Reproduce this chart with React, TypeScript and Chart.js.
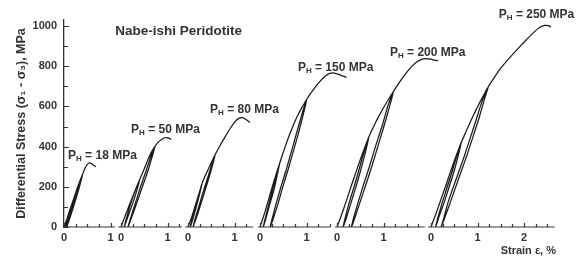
import React, { useEffect, useRef } from 'react';
import { Chart, registerables } from 'chart.js';

Chart.register(...registerables);

// ---- data ----
const pressures = [18, 50, 80, 150, 200, 250];
// where each strain axis' zero sits on the common x scale
const segmentOrigins = [0, 1.226, 2.667, 4.215, 5.871, 7.892];
const segmentAxisStart = [0, -0.06, -0.06, -0.04, -0.04, -0.06];
const segmentAxisEnd = [1.1, 1.31, 1.4, 1.51, 1.89, 2.66];
const segmentTickLabels = [[0, 1], [0, 1], [0, 1], [0, 1], [0, 1], [0, 1, 2]];
const yTickValues = [0, 200, 400, 600, 800, 1000];
const yMinorValues = [100, 300, 500, 700, 900];

// [strain %, differential stress MPa]
const curve18: [number, number][] = [
  [0, 0], [0.07, 45], [0.14, 95], [0.22, 148],
  [0.17, 105], [0.105, 55], [0.03, 0], [0.085, 45], [0.16, 100], [0.22, 148],
  [0.28, 190], [0.34, 228], [0.4, 262],
  [0.35, 215], [0.27, 150], [0.17, 75], [0.06, 0], [0.13, 60], [0.23, 135], [0.33, 205], [0.4, 262],
  [0.45, 292], [0.5, 312], [0.55, 319], [0.6, 314], [0.65, 305], [0.69, 300],
];
const curve50: [number, number][] = [
  [0, 0], [0.1, 62], [0.2, 122], [0.3, 180], [0.4, 235],
  [0.35, 190], [0.27, 130], [0.17, 65], [0.07, 0],
  [0.13, 55], [0.22, 125], [0.32, 190], [0.4, 235],
  [0.5, 290], [0.58, 335], [0.66, 375], [0.73, 400],
  [0.67, 350], [0.58, 280], [0.46, 200], [0.34, 120], [0.23, 50], [0.15, 0],
  [0.2, 40], [0.31, 120], [0.42, 200], [0.54, 280], [0.64, 350], [0.73, 400],
  [0.8, 422], [0.88, 437], [0.94, 444], [0.99, 445], [1.04, 441], [1.08, 436],
];
const curve80: [number, number][] = [
  [0, 0], [0.08, 50], [0.16, 110], [0.24, 170], [0.3, 215],
  [0.26, 175], [0.2, 120], [0.13, 60], [0.05, 0],
  [0.09, 40], [0.155, 95], [0.23, 160], [0.3, 215],
  [0.37, 255], [0.44, 290], [0.51, 325], [0.58, 358],
  [0.53, 310], [0.45, 245], [0.35, 170], [0.25, 95], [0.17, 40], [0.11, 0],
  [0.145, 35], [0.23, 100], [0.32, 170], [0.43, 250], [0.51, 310], [0.58, 358],
  [0.68, 402], [0.8, 450], [0.92, 495], [1.02, 527], [1.1, 542], [1.17, 544], [1.24, 536], [1.33, 520],
];
const curve150: [number, number][] = [
  [0, 0], [0.1, 70], [0.2, 150], [0.3, 228], [0.42, 315],
  [0.37, 260], [0.3, 185], [0.2, 105], [0.13, 45], [0.07, 0],
  [0.11, 40], [0.18, 105], [0.27, 185], [0.35, 260], [0.42, 315],
  [0.5, 372], [0.6, 438], [0.7, 498], [0.8, 550], [0.9, 594], [1.0, 632],
  [0.93, 560], [0.83, 470], [0.72, 380], [0.61, 290], [0.49, 200], [0.38, 110], [0.29, 45], [0.22, 0],
  [0.26, 40], [0.34, 110], [0.45, 200], [0.57, 290], [0.68, 380], [0.79, 470], [0.9, 560], [1.0, 632],
  [1.1, 668], [1.2, 700], [1.3, 727], [1.4, 750], [1.5, 764], [1.6, 766], [1.72, 757], [1.86, 744],
];
const curve200: [number, number][] = [
  [0, 0], [0.1, 62], [0.2, 130], [0.3, 200], [0.4, 268], [0.5, 335], [0.6, 398], [0.68, 445],
  [0.62, 380], [0.53, 300], [0.42, 210], [0.3, 120], [0.2, 45], [0.13, 0],
  [0.17, 40], [0.26, 120], [0.38, 210], [0.49, 300], [0.59, 380], [0.68, 445],
  [0.78, 496], [0.88, 543], [0.98, 586], [1.1, 632], [1.21, 672],
  [1.13, 600], [1.02, 510], [0.89, 410], [0.76, 310], [0.62, 210], [0.49, 120], [0.39, 50], [0.31, 0],
  [0.35, 40], [0.45, 120], [0.57, 210], [0.71, 310], [0.84, 410], [0.98, 510], [1.09, 600], [1.21, 672],
  [1.32, 712], [1.42, 746], [1.52, 776], [1.62, 802], [1.72, 822], [1.82, 834], [1.92, 838], [2.02, 835], [2.1, 830], [2.17, 827],
];
const curve250: [number, number][] = [
  [0, 0], [0.1, 62], [0.2, 128], [0.3, 194], [0.4, 262], [0.5, 328], [0.58, 378], [0.65, 420],
  [0.58, 350], [0.5, 280], [0.39, 200], [0.28, 120], [0.17, 50], [0.1, 0],
  [0.14, 40], [0.24, 120], [0.35, 200], [0.46, 280], [0.55, 350], [0.65, 420],
  [0.74, 468], [0.84, 520], [0.95, 574], [1.05, 620], [1.15, 664], [1.23, 697],
  [1.13, 620], [1.03, 540], [0.89, 440], [0.74, 335], [0.57, 225], [0.42, 125], [0.3, 50], [0.22, 0],
  [0.27, 40], [0.37, 125], [0.52, 225], [0.69, 335], [0.84, 440], [0.98, 540], [1.09, 620], [1.23, 697],
  [1.35, 740], [1.5, 790], [1.66, 834], [1.84, 880], [2.03, 927], [2.15, 955], [2.25, 977], [2.34, 994], [2.44, 1003], [2.52, 1002], [2.58, 996],
];
const curves = [curve18, curve50, curve80, curve150, curve200, curve250];

// label anchors: [x on common scale, stress]
const pressureLabelAnchors: [number, number][] = [
  [0.086, 353], [1.441, 483], [3.14, 582], [5.03, 791], [7.01, 866], [9.35, 1055],
];
const titleText = 'Nabe-ishi Peridotite';
const titleAnchor: [number, number] = [1.1, 975];

const FONT = '"Liberation Sans", Arial, Helvetica, sans-serif';
const TEXT = '#333';
const INK = '#1a1a1a';

const xTickValues: number[] = [];
const xTickLabels: string[] = [];
segmentOrigins.forEach((o, i) => {
  segmentTickLabels[i].forEach((t) => {
    xTickValues.push(o + t);
    xTickLabels.push(String(t));
  });
});

const annotate = {
  id: 'annotate',
  afterDatasetsDraw(chart: any) {
    const { ctx } = chart;
    const x = chart.scales.x;
    const y = chart.scales.y;
    const y0 = y.getPixelForValue(0);
    ctx.save();
    ctx.strokeStyle = '#333';
    ctx.lineWidth = 1.2;
    ctx.beginPath();
    segmentOrigins.forEach((o, i) => {
      ctx.moveTo(x.getPixelForValue(o + segmentAxisStart[i]), y0);
      ctx.lineTo(x.getPixelForValue(o + segmentAxisEnd[i]), y0);
      for (let t = 0; t <= segmentAxisEnd[i] + 1e-6; t += 0.25) {
        const px = Math.round(x.getPixelForValue(o + t)) + 0.5;
        const major = Math.abs(t - Math.round(t)) < 1e-6;
        ctx.moveTo(px, y0);
        ctx.lineTo(px, y0 - (major ? 4 : 3));
      }
    });
    const ax = x.left;
    yTickValues.forEach((v) => {
      const py = Math.round(y.getPixelForValue(v)) + 0.5;
      ctx.moveTo(ax, py);
      ctx.lineTo(ax + 5, py);
    });
    yMinorValues.forEach((v) => {
      const py = Math.round(y.getPixelForValue(v)) + 0.5;
      ctx.moveTo(ax, py);
      ctx.lineTo(ax + 4, py);
    });
    ctx.stroke();

    ctx.fillStyle = TEXT;
    ctx.textBaseline = 'middle';
    ctx.textAlign = 'left';
    pressures.forEach((p, i) => {
      let px = x.getPixelForValue(pressureLabelAnchors[i][0]);
      const py = y.getPixelForValue(pressureLabelAnchors[i][1]);
      ctx.font = `bold 12px ${FONT}`;
      ctx.fillText('P', px, py);
      px += ctx.measureText('P').width;
      ctx.font = `bold 8px ${FONT}`;
      ctx.fillText('H', px, py + 2.5);
      px += ctx.measureText('H').width;
      ctx.font = `bold 12px ${FONT}`;
      ctx.fillText(` = ${p} MPa`, px, py);
    });
    ctx.font = `bold 13.5px ${FONT}`;
    ctx.fillText(titleText, x.getPixelForValue(titleAnchor[0]), y.getPixelForValue(titleAnchor[1]));
    ctx.restore();
  },
};

export default function App() {
  const ref = useRef<HTMLCanvasElement | null>(null);
  useEffect(() => {
    if (!ref.current) return;
    const datasets = curves.map((c, i) => ({
      label: `PH = ${pressures[i]} MPa`,
      data: c.map(([e, s]) => ({ x: segmentOrigins[i] + e, y: s })),
      borderColor: INK,
      borderWidth: 1.25,
      pointRadius: 0,
      tension: 0.15,
      fill: false,
    }));
    const chart = new Chart(ref.current, {
      type: 'line',
      data: { datasets },
      options: {
        animation: false,
        responsive: false,
        maintainAspectRatio: false,
        layout: { padding: { left: 0, right: 25, top: 20, bottom: 0 } },
        plugins: { legend: { display: false }, tooltip: { enabled: false } },
        scales: {
          x: {
            type: 'linear',
            min: 0,
            max: 10.58,
            border: { display: false },
            grid: { display: false, drawTicks: false, tickLength: 0 },
            afterBuildTicks: (s: any) => {
              s.ticks = xTickValues.map((v) => ({ value: v }));
            },
            afterFit: (s: any) => {
              s.height = 29;
            },
            ticks: {
              autoSkip: false,
              maxRotation: 0,
              minRotation: 0,
              padding: 4,
              color: TEXT,
              font: { family: FONT, size: 11, weight: 'bold' },
              callback: (_v: any, i: number) => xTickLabels[i],
            },
            title: {
              display: true,
              text: 'Strain ε, %',
              align: 'end',
              padding: 0,
              color: TEXT,
              font: { family: FONT, size: 11, weight: 'bold', lineHeight: 1 },
            },
          },
          y: {
            type: 'linear',
            min: 0,
            max: 1030,
            border: { display: true, color: '#333', width: 1.3 },
            grid: { display: false, drawTicks: false, tickLength: 0 },
            afterBuildTicks: (s: any) => {
              s.ticks = yTickValues.map((v) => ({ value: v }));
            },
            afterFit: (s: any) => {
              s.width = 64;
            },
            ticks: {
              padding: 7,
              color: TEXT,
              font: { family: FONT, size: 11, weight: 'bold' },
              callback: (v: any) => String(v),
            },
            title: {
              display: true,
              text: 'Differential Stress (σ₁ - σ₃), MPa',
              padding: { top: 14, bottom: 0 },
              color: TEXT,
              font: { family: FONT, size: 12.5, weight: 'bold' },
            },
          },
        },
      },
      plugins: [annotate],
    } as any);
    return () => chart.destroy();
  }, []);
  return (
    <div style={{ position: 'fixed', left: 0, top: 0, width: 581, height: 256, background: '#fff' }}>
      <canvas ref={ref} width={581} height={256} style={{ width: 581, height: 256 }} />
    </div>
  );
}
